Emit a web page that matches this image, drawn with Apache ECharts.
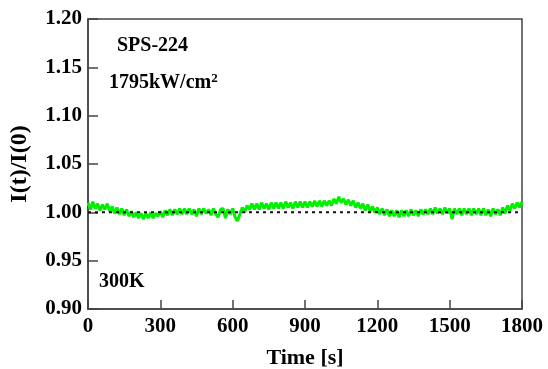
<!DOCTYPE html>
<html><head><meta charset="utf-8">
<script src="https://cdn.jsdelivr.net/npm/echarts@6/dist/echarts.min.js"></script>
<style>html,body{margin:0;padding:0;background:#fff}#c{width:548px;height:369px}</style>
</head><body><div id="c"></div>
<script>
var timeStep = 10;
var ratio = [
1.010,1.003,1.011,1.004,1.009,1.002,1.008,1.003,1.009,1.001,
1.006,0.999,1.005,0.998,1.004,0.997,1.003,0.996,1.001,0.995,
1.000,0.994,0.999,0.993,0.999,0.994,1.000,0.994,0.999,0.996,
1.001,0.995,1.002,0.997,1.003,0.997,1.003,0.998,1.004,0.998,
1.004,0.998,1.004,0.998,1.003,0.996,1.004,0.998,1.004,0.999,
1.003,0.997,1.004,0.998,0.995,1.003,1.004,0.994,1.003,0.998,
1.004,0.995,0.991,0.998,1.005,1.000,1.007,1.003,1.009,1.003,
1.009,1.003,1.010,1.004,1.009,1.003,1.010,1.004,1.010,1.004,
1.010,1.004,1.011,1.005,1.010,1.004,1.011,1.005,1.011,1.005,
1.011,1.005,1.011,1.006,1.012,1.006,1.012,1.006,1.012,1.007,
1.012,1.007,1.014,1.009,1.016,1.010,1.014,1.008,1.013,1.007,
1.012,1.005,1.010,1.004,1.009,1.002,1.008,1.001,1.006,1.000,
1.005,0.998,1.004,0.997,1.003,0.996,1.002,0.996,1.002,0.995,
1.002,0.996,1.002,0.996,1.003,0.997,1.002,0.996,1.003,0.998,
1.003,0.998,1.004,0.998,1.005,0.999,1.004,0.998,1.005,0.999,
1.004,0.993,1.004,0.998,1.004,0.997,1.004,0.998,1.004,0.997,
1.004,0.998,1.004,0.997,1.004,0.997,1.003,0.996,1.004,0.998,
1.003,0.997,1.005,0.999,1.007,1.002,1.009,1.004,1.010,1.005,
1.011
];
var refLine = [[0, 1.0], [1800, 1.0]];
var xTicks = [0, 300, 600, 900, 1200, 1500, 1800];
var yTicks = [0.90, 0.95, 1.00, 1.05, 1.10, 1.15, 1.20];

var seriesData = ratio.map(function (v, i) { return [i * timeStep, v]; });
var font = '"Liberation Serif","Times New Roman",serif';
var chart = echarts.init(document.getElementById('c'), null, {renderer: 'canvas'});
chart.setOption({
  animation: false,
  grid: {left: 88, top: 19, right: 26, bottom: 60, show: true, borderColor: '#444', borderWidth: 1.5,
    containLabel: false, outerBoundsMode: 'none'},
  xAxis: {
    type: 'value', min: 0, max: 1800, interval: 300,
    name: 'Time [s]', nameLocation: 'middle', nameGap: 38,
    nameTextStyle: {fontFamily: font, fontWeight: 'bold', fontSize: 22, color: '#000'},
    axisLine: {show: true, lineStyle: {color: '#444', width: 1.5}},
    axisTick: {show: true, inside: true, length: 9, lineStyle: {color: '#444', width: 1.5}},
    axisLabel: {fontFamily: font, fontWeight: 'bold', fontSize: 21, color: '#000', margin: 7,
      formatter: function (v) { return xTicks.indexOf(v) >= 0 ? String(v) : ''; }},
    splitLine: {show: false}
  },
  yAxis: {
    type: 'value', min: 0.90, max: 1.20, interval: 0.05,
    name: 'I(t)/I(0)', nameLocation: 'middle', nameGap: 56, nameRotate: 90,
    nameTextStyle: {fontFamily: font, fontWeight: 'bold', fontSize: 24, color: '#000'},
    axisLine: {show: true, lineStyle: {color: '#444', width: 1.5}},
    axisTick: {show: true, inside: true, length: 10, lineStyle: {color: '#444', width: 1.5}},
    axisLabel: {fontFamily: font, fontWeight: 'bold', fontSize: 21, color: '#000', margin: 6,
      formatter: function (v) { return v.toFixed(2); }},
    splitLine: {show: false}
  },
  series: [
    {type: 'line', data: refLine, symbol: 'none', z: 3,
      lineStyle: {color: '#111', width: 2, type: [3, 4]}},
    {type: 'line', data: seriesData, symbol: 'none', z: 2,
      lineStyle: {color: '#00f000', width: 3}}
  ],
  graphic: [
    {type: 'text', left: 117, top: 36, style: {text: 'SPS-224', font: 'bold 20px ' + font, fill: '#000'}},
    {type: 'text', left: 109, top: 72, style: {text: '{a|1795kW/cm}{s|2}', fill: '#000',
      rich: {a: {font: 'bold 20px ' + font, fill: '#000'}, s: {font: 'bold 13px ' + font, fill: '#000', verticalAlign: 'top', padding: [0,0,9,0]}}}},
    {type: 'text', left: 99, top: 272, style: {text: '300K', font: 'bold 20px ' + font, fill: '#000'}}
  ]
});
</script></body></html>
